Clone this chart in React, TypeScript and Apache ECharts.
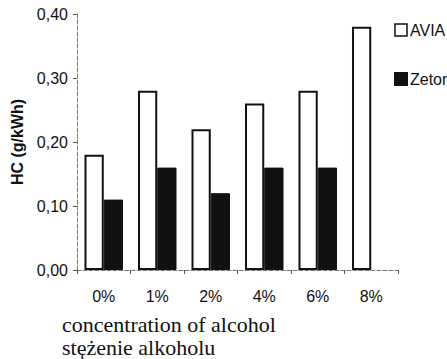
import React, { useEffect, useRef } from "react";
import * as echarts from "echarts";

const categories = ["0%", "1%", "2%", "4%", "6%", "8%"];
const aviaValues = [0.18, 0.28, 0.22, 0.26, 0.28, 0.38];
const zetorValues: (number | null)[] = [0.11, 0.16, 0.12, 0.16, 0.16, null];
const yAxisName = "HC (g/kWh)";
const xTitleLines = ["concentration of alcohol", "stężenie alkoholu"];

export default function App() {
  const ref = useRef<HTMLDivElement>(null);
  useEffect(() => {
    document.body.style.margin = "0";
    const chart = echarts.init(ref.current!, null, { renderer: "svg" });
    chart.setOption({
      animation: false,
      backgroundColor: "#ffffff",
      grid: { left: 77, right: 49, top: 14, bottom: 89, containLabel: false, outerBoundsMode: "none" },
      legend: {
        orient: "vertical",
        left: 389,
        top: 17,
        itemGap: 33,
        itemWidth: 12,
        itemHeight: 12,
        icon: "rect",
        textStyle: { fontFamily: "Liberation Sans", fontSize: 16, color: "#111", padding: [0, 0, 0, -2] },
        data: [
          { name: "AVIA", itemStyle: { color: "#fff", borderColor: "#111", borderWidth: 1.5 } },
          { name: "Zetor", itemStyle: { color: "#111" } },
        ],
      },
      xAxis: {
        type: "category",
        data: categories,
        axisLine: { show: true, lineStyle: { color: "#777", width: 1, type: "dashed" } },
        axisTick: { show: true, length: 4, lineStyle: { color: "#555" } },
        axisLabel: { margin: 18, fontFamily: "Liberation Sans", fontSize: 16, color: "#111" },
      },
      yAxis: {
        type: "value",
        min: 0,
        max: 0.4,
        interval: 0.1,
        name: yAxisName,
        nameLocation: "middle",
        nameGap: 50,
        nameTextStyle: { fontFamily: "Liberation Sans", fontSize: 16, fontWeight: "bold", color: "#111" },
        axisLine: { show: true, lineStyle: { color: "#777", width: 1, type: "dashed" } },
        axisTick: { show: true, length: 4, lineStyle: { color: "#555" } },
        splitLine: { show: false },
        axisLabel: {
          margin: 9,
          fontFamily: "Liberation Sans",
          fontSize: 16,
          color: "#111",
          formatter: (v: number) => v.toFixed(2).replace(".", ","),
        },
      },
      series: [
        {
          name: "AVIA",
          type: "bar",
          data: aviaValues,
          barGap: "0%",
          barCategoryGap: "28%",
          itemStyle: { color: "#fff", borderColor: "#111", borderWidth: 2 },
        },
        {
          name: "Zetor",
          type: "bar",
          data: zetorValues,
          itemStyle: { color: "#111", borderColor: "#111", borderWidth: 1 },
        },
      ],
      graphic: [
        {
          type: "text",
          x: 62,
          y: 324,
          style: { text: xTitleLines[0], fontFamily: "Liberation Serif", fontSize: 22, fill: "#111", verticalAlign: "middle" },
        },
        {
          type: "text",
          x: 62,
          y: 347,
          style: { text: xTitleLines[1], fontFamily: "Liberation Serif", fontSize: 22, fill: "#111", verticalAlign: "middle" },
        },
      ],
    });
    return () => chart.dispose();
  }, []);
  return <div ref={ref} style={{ width: 447, height: 359 }} />;
}
